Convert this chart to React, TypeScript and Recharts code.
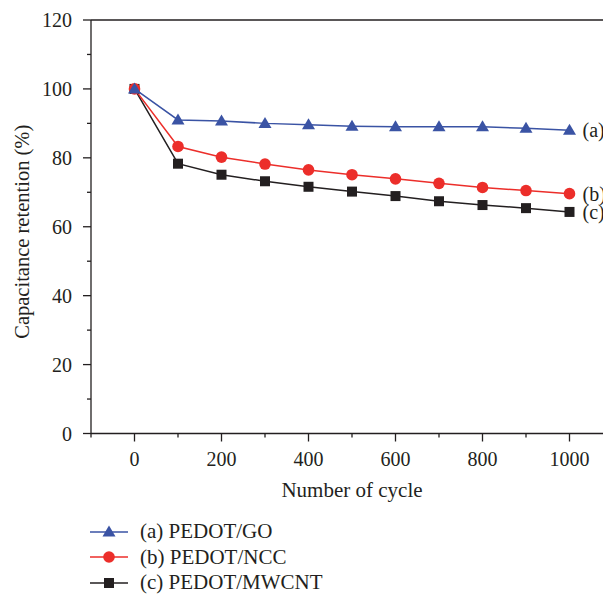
import { LineChart, Line, XAxis, YAxis, ReferenceLine, LabelList } from "recharts"

const cycles = [0, 100, 200, 300, 400, 500, 600, 700, 800, 900, 1000]
const pedotGO = [100, 91, 90.7, 90.0, 89.6, 89.2, 89.0, 89.0, 89.0, 88.6, 88.0]
const pedotNCC = [100, 83.3, 80.2, 78.2, 76.5, 75.1, 73.9, 72.6, 71.4, 70.5, 69.6]
const pedotMWCNT = [100, 78.3, 75.1, 73.2, 71.6, 70.2, 68.9, 67.4, 66.3, 65.4, 64.3]

const xTicks = [-100, 0, 100, 200, 300, 400, 500, 600, 700, 800, 900, 1000, 1100]
const yTicks = [0, 10, 20, 30, 40, 50, 60, 70, 80, 90, 100, 110, 120]

const data = cycles.map((c, i) => ({ cycle: c, go: pedotGO[i], ncc: pedotNCC[i], mwcnt: pedotMWCNT[i] }))

const FONT = '"Liberation Serif", "Times New Roman", serif'
const AXIS = "#231f20"

const series = [
  { key: "go", name: "(a) PEDOT/GO", tag: "(a)", color: "#3a53a4", shape: "triangle" },
  { key: "ncc", name: "(b) PEDOT/NCC", tag: "(b)", color: "#ec2e2a", shape: "circle" },
  { key: "mwcnt", name: "(c) PEDOT/MWCNT", tag: "(c)", color: "#231f20", shape: "square" },
]

function Marker({ shape, cx, cy, color }: { shape: string; cx: number; cy: number; color: string }) {
  if (shape === "triangle") {
    return <polygon points={`${cx},${cy - 6.5} ${cx + 6.5},${cy + 4.5} ${cx - 6.5},${cy + 4.5}`} fill={color} />
  }
  if (shape === "circle") {
    return <circle cx={cx} cy={cy} r={5.8} fill={color} />
  }
  return <rect x={cx - 5} y={cy - 5} width={10} height={10} fill={color} />
}

const YTick = (props: any) => {
  const { x, y, payload } = props
  const major = payload.value % 20 === 0
  return (
    <g>
      <line x1={x} x2={x - (major ? 8 : 4)} y1={y} y2={y} stroke={AXIS} strokeWidth={1.3} />
      {major && (
        <text x={x - 19} y={y} dy="0.35em" textAnchor="end" fontSize={20} fontFamily={FONT} fill={AXIS}>
          {payload.value}
        </text>
      )}
    </g>
  )
}

const XTick = (props: any) => {
  const { x, y, payload } = props
  const major = payload.value % 200 === 0
  return (
    <g>
      <line x1={x} x2={x} y1={y} y2={y + (major ? 8 : 4)} stroke={AXIS} strokeWidth={1.3} />
      {major && payload.value >= 0 && payload.value <= 1000 && (
        <text x={x} y={y + 32} textAnchor="middle" fontSize={20} fontFamily={FONT} fill={AXIS}>
          {payload.value}
        </text>
      )}
    </g>
  )
}

export default function App() {
  // draw black first so the blue triangles sit on top at cycle 0
  const drawOrder = [...series].reverse()
  return (
    <div style={{ position: "absolute", left: 0, top: 0, width: 603, height: 594, overflow: "hidden", fontFamily: FONT }}>
      <div style={{ position: "absolute", left: 8, top: 8 }}>
        <LineChart width={640} height={586} data={data} margin={{ top: 12, right: 35, left: 0, bottom: 70.5 }}>
          <XAxis
            dataKey="cycle"
            type="number"
            domain={[-100, 1100]}
            ticks={xTicks}
            interval={0}
            height={90}
            tickSize={0}
            tickMargin={0}
            tick={XTick}
            axisLine={{ stroke: AXIS, strokeWidth: 1.3 }}
            label={(p: any) => {
              const vb = p.viewBox
              return (
                <text x={vb.x + vb.width / 2} y={vb.y + 63.5} textAnchor="middle" fontSize={21} fontFamily={FONT} fill={AXIS}>
                  Number of cycle
                </text>
              )
            }}
          />
          <YAxis
            type="number"
            domain={[0, 120]}
            ticks={yTicks}
            interval={0}
            width={83}
            tickSize={0}
            tickMargin={0}
            tick={YTick}
            axisLine={{ stroke: AXIS, strokeWidth: 1.3 }}
            label={(p: any) => {
              const vb = p.viewBox
              const cy = vb.y + vb.height / 2 + 5
              return (
                <text x={21} y={cy} transform={`rotate(-90 21 ${cy})`} textAnchor="middle" fontSize={20.5} fontFamily={FONT} fill={AXIS}>
                  Capacitance retention (%)
                </text>
              )
            }}
          />
          <ReferenceLine y={120} stroke={AXIS} strokeWidth={1.3} />
          {drawOrder.map((s) => (
            <Line
              key={s.key}
              dataKey={s.key}
              stroke={s.color}
              strokeWidth={1.5}
              isAnimationActive={false}
              dot={(p: any) => <Marker key={`${s.key}-${p.index}`} shape={s.shape} cx={p.cx} cy={p.cy} color={s.color} />}
              activeDot={false}
            >
              <LabelList
                dataKey={s.key}
                content={(p: any) =>
                  p.index === cycles.length - 1 ? (
                    <text x={p.x + 13} y={p.y} dy="0.35em" fontSize={20} fontFamily={FONT} fill={AXIS}>
                      {s.tag}
                    </text>
                  ) : null
                }
              />
            </Line>
          ))}
        </LineChart>
        <div style={{ position: "absolute", left: 82, top: 511 }}>
          {series.map((s) => (
            <div key={s.key} style={{ display: "flex", alignItems: "center", height: 25.5 }}>
              <svg width={38} height={20} style={{ marginRight: 12 }}>
                <line x1={0} x2={38} y1={10} y2={10} stroke={s.color} strokeWidth={1.5} />
                <Marker shape={s.shape} cx={19} cy={10} color={s.color} />
              </svg>
              <span style={{ fontSize: 21, color: AXIS, whiteSpace: "nowrap" }}>{s.name}</span>
            </div>
          ))}
        </div>
      </div>
    </div>
  )
}
